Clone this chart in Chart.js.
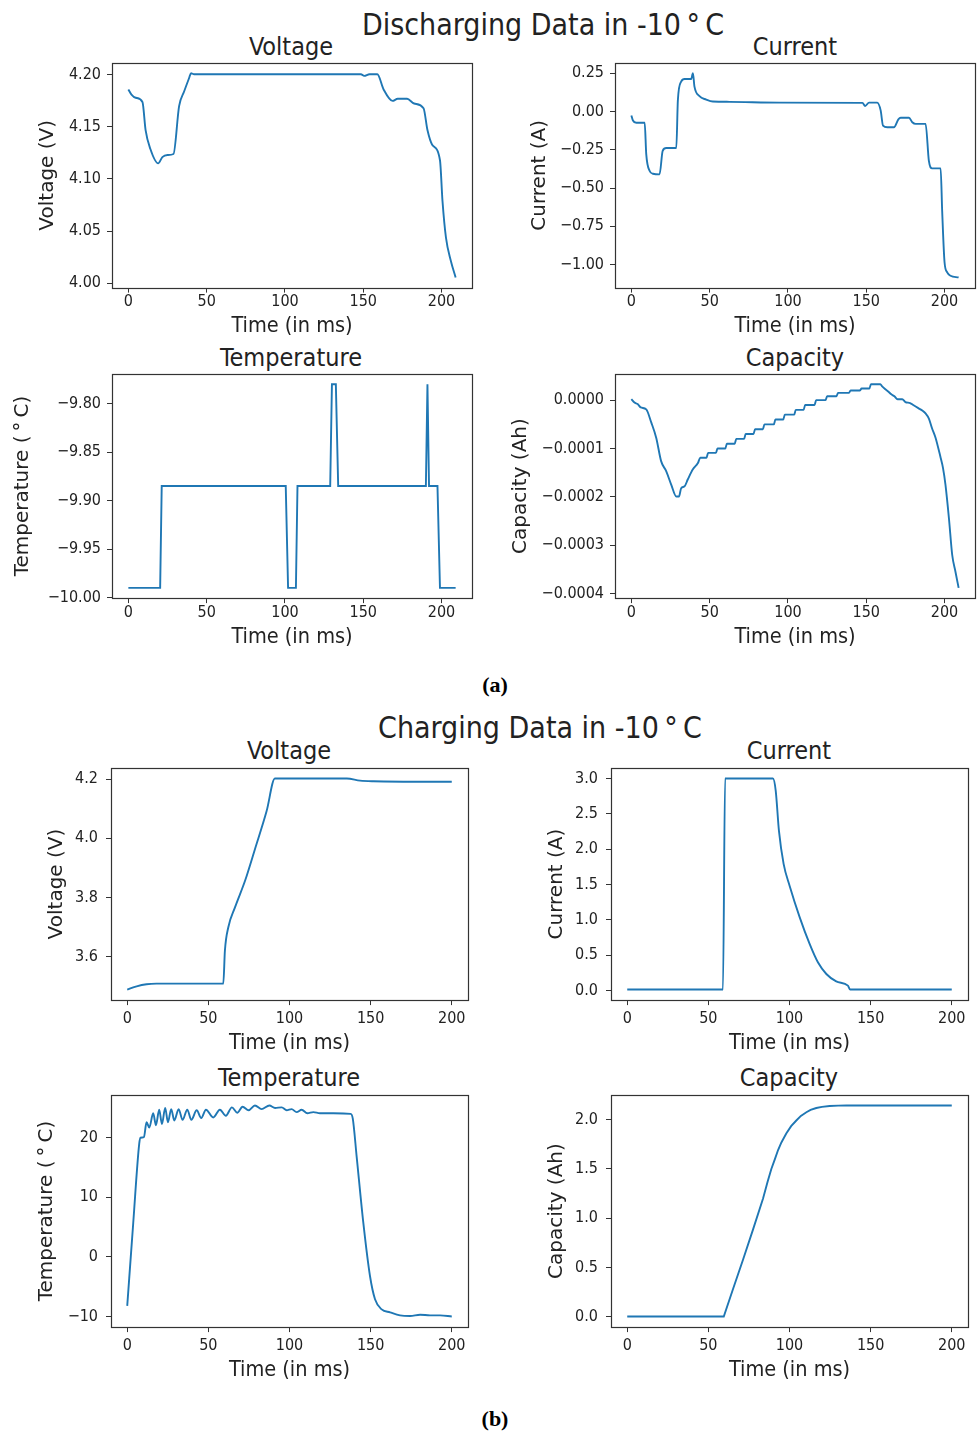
<!DOCTYPE html>
<html><head><meta charset="utf-8">
<script src="https://cdn.jsdelivr.net/npm/chart.js@4.4.1/dist/chart.umd.min.js"></script>
<style>
body{margin:0;width:977px;height:1434px;background:#fff;position:relative;overflow:hidden;font-family:"DejaVu Sans Condensed","DejaVu Sans",sans-serif;color:#222}
.t{position:absolute;white-space:nowrap;transform:translate(-50%,-50%);line-height:1}
.sup{font-size:30px}
.sub{font-size:25px}
.lab{font-family:"Liberation Serif","DejaVu Serif",serif;font-weight:bold;font-size:22px;color:#000}
canvas{position:absolute}
</style></head><body>
<script>
// ---------- DATA: Discharging (-10 °C) ----------
const disVoltT = [0,2,4.7,9,11,14,19,21.7,25,28.8,32.4,35.6,38.8,40,42,148.5,150.6,154,159,163,168.7,172,178,182.5,188.5,191,194,199,200.6,202.8,206,209];
const disVoltV = [4.186,4.181,4.178,4.174,4.147,4.129,4.115,4.121,4.123,4.124,4.170,4.184,4.197,4.2016,4.2006,4.2006,4.199,4.2006,4.2006,4.186,4.175,4.177,4.177,4.1725,4.168,4.147,4.133,4.118,4.079,4.044,4.021,4.0055];

const disCurrT = [0,1,3.2,8.5,9.5,11.7,13.8,18,20,22.3,28.7,29.7,31.8,34,38.2,39.3,40.3,43.5,47.8,52,62.6,94.5,147.6,149.3,151.8,157,159.2,160.7,163.5,167.7,170.5,172,177.3,179.4,181.5,187.9,190,192.1,197.5,198.5,200,201.7,203.8,209];
const disCurrV = [-0.026,-0.059,-0.074,-0.074,-0.279,-0.389,-0.407,-0.411,-0.257,-0.239,-0.239,0.074,0.195,0.212,0.212,0.25,0.162,0.10,0.078,0.065,0.063,0.058,0.056,0.036,0.058,0.058,0.007,-0.092,-0.103,-0.103,-0.052,-0.041,-0.041,-0.07,-0.081,-0.081,-0.323,-0.372,-0.372,-0.654,-0.985,-1.051,-1.073,-1.084];

const disTempT = [0,20.3,21.3,100.5,102,107,108,128.9,130,132.5,134,190,191,192,197.4,199,209];
const disTempV = [-9.99,-9.99,-9.885,-9.885,-9.99,-9.99,-9.885,-9.885,-9.78,-9.78,-9.885,-9.885,-9.78,-9.885,-9.885,-9.99,-9.99];

const disCapT = [0,2,4,6,9.5,12.7,15.9,19,22.3,25.5,28.7,30.4,31.8,34,36,39.3,42.5,44,48,49,54,55,60,61,66,67,72,73,78,79,84,85,91,92,97,98,104,105,110,111,117,118,124,125,131,132,139,140,146,147,152,153,159,160,162,164,166,168,170,173,175,178,180,183,186,188,190,192,194.3,197.5,199,200.6,202.8,204.9,207,209];
const disCapV = [0.000002,-0.000005,-0.000008,-0.000015,-0.000019,-0.000046,-0.000078,-0.000126,-0.000147,-0.000175,-0.000199,-0.000199,-0.000182,-0.000178,-0.000164,-0.000143,-0.00013,-0.000119,-0.000119,-0.000109,-0.000109,-0.0001,-0.0001,-0.00009,-0.00009,-0.00008,-0.00008,-0.00007,-0.00007,-0.00006,-0.00006,-0.00005,-0.00005,-0.00004,-0.00004,-0.00003,-0.00003,-0.00002,-0.00002,-0.00001,-0.00001,0,0,0.000008,0.000008,0.000015,0.000015,0.00002,0.00002,0.000024,0.000024,0.000033,0.000033,0.000029,0.000023,0.000018,0.000012,0.000008,0.000002,0.000002,-0.000004,-0.000006,-0.00001,-0.000016,-0.000022,-0.000028,-0.000038,-0.000058,-0.000078,-0.000119,-0.00014,-0.000175,-0.000244,-0.00032,-0.000355,-0.000388];

// ---------- DATA: Charging (-10 °C) ----------
const chgVoltT = [0,5.8,11.9,18,59.2,60.2,62.3,66.4,72.6,78.7,85.9,91,135.3,143.5,151.7,200];
const chgVoltV = [3.488,3.499,3.506,3.508,3.508,3.62,3.699,3.766,3.856,3.963,4.092,4.202,4.202,4.195,4.193,4.191];

const chgCurrT = [0,59,60.3,89.8,91.5,93.5,96.4,100.1,106.3,112.4,117.5,122.7,128.8,136,137.4,200];
const chgCurrV = [0.015,0.015,3.0,3.0,2.83,2.26,1.79,1.48,1.036,0.66,0.40,0.235,0.13,0.07,0.015,0.015];

const chgTempT = [0,3.7,7.4,8.2,10.3,11.9,13.6,16.0,17.7,19.7,21.4,23.4,25.1,27.1,29.0,31.7,34.1,37.0,39.5,42.8,45.6,48.5,53.0,57.1,60.8,64.5,67.8,71.1,74.8,78.7,82.8,87.6,91.1,95.2,98.3,101.3,104.4,107.5,111.0,114.7,118.8,127,137.7,139,141.4,145.5,149.6,152.7,156.8,162,168.1,174.3,180.5,186.6,192.8,200];
const chgTempV = [-8.2,5.7,19.0,20.0,20.1,22.6,21.7,24.1,22.1,24.7,22.3,25.0,22.6,24.8,22.9,24.8,23.0,24.7,23.0,24.6,23.3,24.7,23.4,24.7,23.7,25.1,24.2,25.2,24.6,25.4,24.8,25.4,25.0,25.1,24.6,24.8,24.3,24.7,24.1,24.3,24.1,24.1,24.0,23.2,16.8,5.7,-3.2,-7.1,-8.8,-9.3,-9.8,-9.9,-9.7,-9.8,-9.8,-10];

const chgCapT = [0,59.5,65.2,71.4,77.5,83.7,86.5,88.8,91,92.9,95,98,101,104.2,107,110.4,113,116.5,120,124.7,130,135,200];
const chgCapV = [0,0,0.28,0.58,0.884,1.2,1.37,1.5,1.6,1.69,1.77,1.86,1.935,1.993,2.04,2.077,2.10,2.12,2.132,2.14,2.144,2.145,2.145];

// ---------- TICKS ----------
const timeTicks = [0,50,100,150,200];
const disVoltTicks = [4.00,4.05,4.10,4.15,4.20];
const disCurrTicks = [-1.00,-0.75,-0.50,-0.25,0.00,0.25];
const disTempTicks = [-10.00,-9.95,-9.90,-9.85,-9.80];
const disCapTicks = [-0.0004,-0.0003,-0.0002,-0.0001,0.0000];
const chgVoltTicks = [3.6,3.8,4.0,4.2];
const chgCurrTicks = [0.0,0.5,1.0,1.5,2.0,2.5,3.0];
const chgTempTicks = [-10,0,10,20];
const chgCapTicks = [0.0,0.5,1.0,1.5,2.0];

// ---------- TEXT ----------
const texts = [
  ['Discharging Data in -10\u2009°\u2009C','sup',543,25],
  ['Voltage','sub',291,46],['Current','sub',795,46],
  ['Temperature','sub',291,357],['Capacity','sub',795,357],
  ['(a)','lab',495,685],
  ['Charging Data in -10\u2009°\u2009C','sup',540,728],
  ['Voltage','sub',289,750],['Current','sub',789,750],
  ['Temperature','sub',289,1077],['Capacity','sub',789,1077],
  ['(b)','lab',495,1419]
];
texts.forEach(([s,c,x,y])=>{const d=document.createElement('div');d.className='t '+c;d.textContent=s;d.style.left=x+'px';d.style.top=y+'px';document.body.appendChild(d);});

const FONT = '"DejaVu Sans Condensed","DejaVu Sans",sans-serif';
Chart.defaults.font.family = FONT;
Chart.defaults.color = '#222';

const framePlugin = {id:'frame',afterDraw(ch){const a=ch.chartArea,c=ch.ctx;c.save();c.strokeStyle='#333';c.lineWidth=1.2;c.strokeRect(Math.round(a.left)+0.5,Math.round(a.top)+0.5,Math.round(a.right-a.left),Math.round(a.bottom-a.top));c.restore();}};

function lim(arr){const mn=Math.min(...arr),mx=Math.max(...arr),m=(mx-mn)*0.05;return [mn-m,mx+m];}
const minus = s => s.replace('-','\u2212');

function make(p){
  const TF=16, XF=21.5, XLH=XF*1.2, YF=20, YLH=YF*1.2, TL=5;
  const cl = p.ytx - YLH/2;
  const H = p.xty + XLH/2;
  const pad = 2;
  const cv = document.createElement('canvas');
  const W = Math.round(p.r - cl + pad), Ht = Math.round(p.b - p.t + pad + H);
  cv.width = W; cv.height = Ht;
  cv.style.left = Math.round(cl)+'px'; cv.style.top = Math.round(p.t - pad)+'px';
  cv.style.width = W+'px'; cv.style.height = Ht+'px';
  document.body.appendChild(cv);
  const [x0,x1] = lim(p.T), [y0,y1] = lim(p.V);
  const yw = p.l - Math.round(cl);
  new Chart(cv,{
    type:'line',
    data:{datasets:[{data:p.T.map((t,i)=>({x:t,y:p.V[i]})),borderColor:'#1f77b4',borderWidth:1.9,pointRadius:0,
      cubicInterpolationMode:p.smooth?'monotone':'default',tension:0,fill:false}]},
    options:{
      responsive:false,animation:false,devicePixelRatio:1,
      layout:{autoPadding:false,padding:{top:pad,right:pad,left:0,bottom:0}},
      plugins:{legend:{display:false},tooltip:{enabled:false}},
      scales:{
        x:{type:'linear',min:x0,max:x1,
          afterBuildTicks:s=>{s.ticks=p.xt.map(v=>({value:v}));},
          afterFit:s=>{s.height=H;s.paddingLeft=0;s.paddingRight=0;},
          grid:{display:true,drawOnChartArea:false,drawTicks:true,tickLength:TL,color:'#333'},
          border:{display:false},
          ticks:{font:{size:TF},padding:p.xpad,maxRotation:0,autoSkip:false,callback:v=>String(v)},
          title:{display:true,text:'Time (in ms)',font:{size:XF},padding:0,color:'#222'}},
        y:{type:'linear',min:y0,max:y1,
          afterBuildTicks:s=>{s.ticks=p.yt.map(v=>({value:v}));},
          afterFit:s=>{s.width=yw;s.paddingTop=0;s.paddingBottom=0;},
          grid:{display:true,drawOnChartArea:false,drawTicks:true,tickLength:TL,color:'#333'},
          border:{display:false},
          ticks:{font:{size:TF},padding:p.ypad,autoSkip:false,callback:v=>minus(Number(v).toFixed(p.dec))},
          title:{display:true,text:p.ylab,font:{size:YF,family:'"DejaVu Sans",sans-serif'},padding:0,color:'#222'}}
      }
    },
    plugins:[framePlugin]
  });
}

const A = {xpad:0, ypad:6};
const B = {xpad:4, ypad:8};
make({...A,smooth:true,T:disVoltT,V:disVoltV,xt:timeTicks,yt:disVoltTicks,dec:2,ylab:'Voltage (V)',l:112,t:63,r:472,b:288,ytx:48,xty:38.5});
make({...A,smooth:true,T:disCurrT,V:disCurrV,xt:timeTicks,yt:disCurrTicks,dec:2,ylab:'Current (A)',l:615,t:63,r:975,b:288,ytx:540,xty:38.5});
make({...A,smooth:false,T:disTempT,V:disTempV,xt:timeTicks,yt:disTempTicks,dec:2,ylab:'Temperature (\u2009°\u2009C)',l:112,t:374,r:472,b:598,ytx:23,xty:39});
make({...A,smooth:true,T:disCapT,V:disCapV,xt:timeTicks,yt:disCapTicks,dec:4,ylab:'Capacity (Ah)',l:615,t:374,r:975,b:598,ytx:521,xty:39});
make({...B,smooth:true,T:chgVoltT,V:chgVoltV,xt:timeTicks,yt:chgVoltTicks,dec:1,ylab:'Voltage (V)',l:111,t:768,r:468,b:1000,ytx:57,xty:43});
make({...B,smooth:true,T:chgCurrT,V:chgCurrV,xt:timeTicks,yt:chgCurrTicks,dec:1,ylab:'Current (A)',l:611,t:768,r:968,b:1000,ytx:557,xty:43});
make({...B,smooth:true,T:chgTempT,V:chgTempV,xt:timeTicks,yt:chgTempTicks,dec:0,ylab:'Temperature (\u2009°\u2009C)',l:111,t:1095,r:468,b:1327,ytx:47,xty:43});
make({...B,smooth:false,T:chgCapT,V:chgCapV,xt:timeTicks,yt:chgCapTicks,dec:1,ylab:'Capacity (Ah)',l:611,t:1095,r:968,b:1327,ytx:557,xty:43});
</script>
</body></html>
